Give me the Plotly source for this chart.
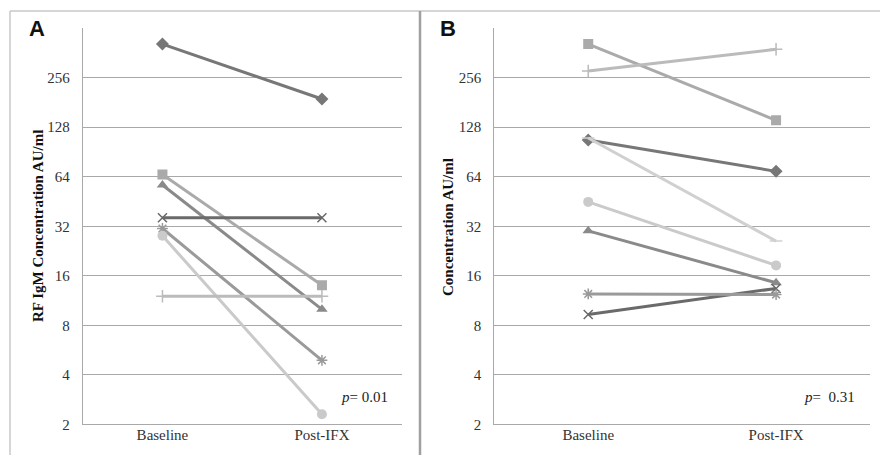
import plotly.graph_objects as go
import math

W, H = 880, 455
HE = 447  # effective rendered height used for paper-fraction conversion

categories = ["Baseline", "Post-IFX"]
tick_vals = [2, 4, 8, 16, 32, 64, 128, 256]
tick_text = ["2", "4", "8", "16", "32", "64", "128", "256"]

# Panel A: RF IgM (7 patients)
a_diamond = [410, 190]
a_square = [66, 14]
a_triangle = [57, 10]
a_x = [36, 36]
a_star = [31, 4.9]
a_circle = [28, 2.3]
a_plus = [12, 12]

# Panel B: 8 patients
b_diamond = [107, 69]
b_square = [410, 141]
b_triangle = [30, 14.5]
b_x = [9.3, 13.4]
b_star = [12.4, 12.3]
b_circle = [45, 18.5]
b_plus = [281, 381]
b_dash = [110, 26]

series_a = [
    (a_diamond, "diamond", "#777777", 10),
    (a_square, "square", "#aaaaaa", 10),
    (a_triangle, "triangle-up", "#8a8a8a", 10),
    (a_x, "x-thin-open", "#6a6a6a", 9),
    (a_star, "asterisk-open", "#9a9a9a", 9),
    (a_circle, "circle", "#cacaca", 10),
    (a_plus, "cross-thin-open", "#bbbbbb", 9),
]
series_b = [
    (b_diamond, "diamond", "#777777", 10),
    (b_square, "square", "#aaaaaa", 10),
    (b_triangle, "triangle-up", "#8a8a8a", 10),
    (b_x, "x-thin-open", "#6a6a6a", 9),
    (b_star, "asterisk-open", "#9a9a9a", 9),
    (b_circle, "circle", "#cacaca", 10),
    (b_plus, "cross-thin-open", "#bbbbbb", 9),
    (b_dash, "line-ew-open", "#d0d0d0", 9),
]

fig = go.Figure()

def add_series(lst, xa, ya):
    for vals, sym, col, sz in lst:
        fig.add_trace(go.Scatter(
            x=[0, 1], y=vals, xaxis=xa, yaxis=ya, mode="lines+markers",
            line=dict(color=col, width=3),
            marker=dict(symbol=sym, color=col, size=sz,
                        line=dict(color=col, width=1.5 if "open" in sym else 0)),
            showlegend=False, hoverinfo="skip"))

add_series(series_a, "x", "y")
add_series(series_b, "x2", "y2")

def px(xp):
    return xp / W

def py(yp):
    return 1 - yp / HE

ydom = [py(424.3), py(28.2)]
yrange = [math.log10(2), math.log10(512)]
tickfont = dict(family="Liberation Serif, DejaVu Serif, serif", size=15, color="#333333")
grid = "#a9a9a9"

yax = dict(type="log", range=yrange, domain=ydom, tickvals=tick_vals, ticktext=tick_text,
           showgrid=True, gridcolor=grid, gridwidth=1, showline=True, linecolor=grid,
           linewidth=1, ticks="", tickfont=tickfont, zeroline=False, ticklabelstandoff=9)
xax = dict(range=[-0.5, 1.5], tickvals=[0, 1], ticktext=categories, showgrid=False,
           showline=True, linecolor=grid, linewidth=1, ticks="", tickfont=tickfont,
           zeroline=False, ticklabelstandoff=-3)

fig.update_layout(
    width=W, height=H, autosize=False, margin=dict(l=0, r=0, t=0, b=0),
    paper_bgcolor="white", plot_bgcolor="white",
    xaxis=dict(xax, domain=[82.7 / W, 401.7 / W], anchor="y"),
    yaxis=dict(yax, anchor="x"),
    xaxis2=dict(xax, domain=[494.3 / W, 870 / W], anchor="y2"),
    yaxis2=dict(yax, anchor="x2"),
)

frame = "#c8c8c8"
fig.add_shape(type="line", xref="paper", yref="paper", x0=px(10), x1=px(880), y0=py(11), y1=py(11),
              line=dict(color=frame, width=1.5))
fig.add_shape(type="line", xref="paper", yref="paper", x0=px(10), x1=px(10), y0=py(11), y1=py(460),
              line=dict(color=frame, width=1.5))
fig.add_shape(type="line", xref="paper", yref="paper", x0=px(420), x1=px(420), y0=py(11), y1=py(460),
              line=dict(color="#a0a0a0", width=2.5))

labfont = dict(family="Liberation Sans, Arial, sans-serif", size=22, color="#111111")
fig.add_annotation(text="<b>A</b>", x=px(37), y=py(29), xref="paper", yref="paper",
                   showarrow=False, font=labfont, xanchor="center", yanchor="middle")
fig.add_annotation(text="<b>B</b>", x=px(448), y=py(29), xref="paper", yref="paper",
                   showarrow=False, font=labfont, xanchor="center", yanchor="middle")

titlefont = dict(family="Liberation Serif, DejaVu Serif, serif", size=15, color="#111111")
fig.add_annotation(text="<b>RF IgM Concentration AU/ml</b>", x=px(38), y=py(226),
                   xref="paper", yref="paper", showarrow=False, textangle=-90,
                   font=titlefont, xanchor="center", yanchor="middle")
fig.add_annotation(text="<b>Concentration AU/ml</b>", x=px(448), y=py(227),
                   xref="paper", yref="paper", showarrow=False, textangle=-90,
                   font=titlefont, xanchor="center", yanchor="middle")

pfont = dict(family="Liberation Serif, DejaVu Serif, serif", size=15, color="#222222")
fig.add_annotation(text="<i>p</i>= 0.01", x=px(390), y=py(397), xref="paper", yref="paper",
                   showarrow=False, font=pfont, xanchor="right", yanchor="middle")
fig.add_annotation(text="<i>p</i>=  0.31", x=px(857), y=py(397), xref="paper", yref="paper",
                   showarrow=False, font=pfont, xanchor="right", yanchor="middle")

fig.write_html("out.html", config={"displayModeBar": False, "responsive": False},
               post_script="document.body.style.margin='0px';document.body.style.overflow='hidden';")
